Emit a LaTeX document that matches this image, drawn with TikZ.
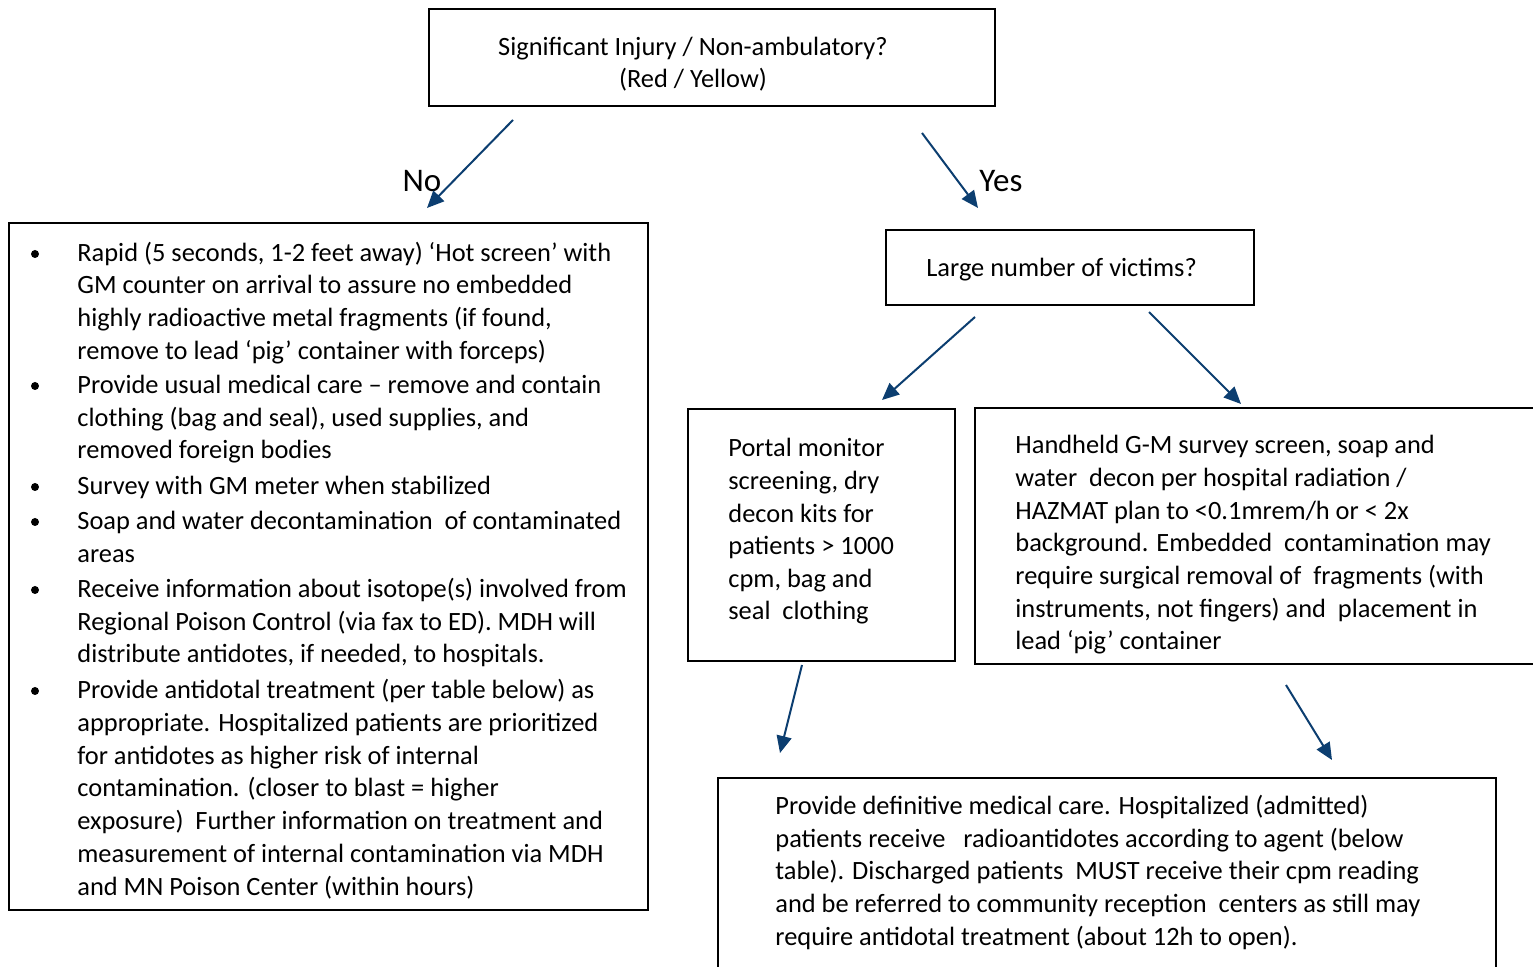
\documentclass[tikz,border=0pt]{standalone}
\usepackage{fontspec}
\setmainfont{Carlito}
\usetikzlibrary{arrows.meta}
\definecolor{arrowblue}{RGB}{12,62,112}
\begin{document}
\begin{tikzpicture}[x=0.5pt,y=-0.5pt,
  box/.style={draw=black,line width=1pt,rectangle,inner sep=0pt,fill=none},
  txt/.style={anchor=base west,inner sep=0pt,font=\fontsize{13.2pt}{16pt}\selectfont},
  ctxt/.style={anchor=base,inner sep=0pt,font=\fontsize{13.2pt}{16pt}\selectfont},
  lbl/.style={anchor=base,inner sep=0pt,font=\fontsize{16.5pt}{18pt}\selectfont},
  bul/.style={circle,fill=black,inner sep=0pt,minimum size=4pt},
  arr/.style={draw=arrowblue,line width=1pt,-{Triangle[length=8.5pt,width=7.5pt]}}]
\clip (0,0) rectangle (1533,967);
\fill[white] (0,0) rectangle (1533,967);
% boxes
\node[box,minimum width=283pt,minimum height=48.5pt] (top) at (712,57.5) {};
\node[box,minimum width=319.5pt,minimum height=343.5pt] (left) at (328.5,566.5) {};
\node[box,minimum width=184pt,minimum height=37.5pt] (large) at (1070,267.5) {};
\node[box,minimum width=133.5pt,minimum height=126pt] (portal) at (821.5,535) {};
\node[box,minimum width=285pt,minimum height=128pt] (hand) at (1260,536) {};
\node[box,minimum width=389pt,minimum height=111pt] (final) at (1107,889) {};
% top text
\node[ctxt] (t1) at (693,56) {Significant Injury / Non-ambulatory?};
\node[ctxt] (t2) at (693,88) {(Red / Yellow)};
% labels
\node[lbl] (no) at (422,192) {No};
\node[lbl] (yes) at (1001,192) {Yes};
\node[txt] (lq) at (926,277) {Large number of victims?};
% left box bullets
\node[bul] (b1) at (35,254) {};
\node[bul] (b2) at (35,386) {};
\node[bul] (b3) at (35,487) {};
\node[bul] (b4) at (35,522) {};
\node[bul] (b5) at (35,590) {};
\node[bul] (b6) at (35,691) {};
% left box text
\node[txt] (l1) at (77,262) {Rapid (5 seconds, 1-2 feet away) ‘Hot screen’ with};
\node[txt] (l2) at (77,294) {GM counter on arrival to assure no embedded};
\node[txt] (l3) at (77,327) {highly radioactive metal fragments (if found,};
\node[txt] (l4) at (77,360) {remove to lead ‘pig’ container with forceps)};
\node[txt] (l5) at (77,394) {Provide usual medical care – remove and contain};
\node[txt] (l6) at (77,427) {clothing (bag and seal), used supplies, and};
\node[txt] (l7) at (77,459) {removed foreign bodies};
\node[txt] (l8) at (77,495) {Survey with GM meter when stabilized};
\node[txt] (l9) at (77,530) {Soap and water decontamination\ \ of contaminated};
\node[txt] (l10) at (77,563) {areas};
\node[txt] (l11) at (77,598) {Receive information about isotope(s) involved from};
\node[txt] (l12) at (77,631) {Regional Poison Control (via fax to ED). MDH will};
\node[txt] (l13) at (77,663) {distribute antidotes, if needed, to hospitals.};
\node[txt] (l14) at (77,699) {Provide antidotal treatment (per table below) as};
\node[txt] (l15) at (77,732) {appropriate. Hospitalized patients are prioritized};
\node[txt] (l16) at (77,765) {for antidotes as higher risk of internal};
\node[txt] (l17) at (77,797) {contamination. (closer to blast = higher};
\node[txt] (l18) at (77,830) {exposure)\ \ Further information on treatment and};
\node[txt] (l19) at (77,863) {measurement of internal contamination via MDH};
\node[txt] (l20) at (77,896) {and MN Poison Center (within hours)};
% portal text
\node[txt] (p1) at (728,457) {Portal monitor};
\node[txt] (p2) at (728,490) {screening, dry};
\node[txt] (p3) at (728,523) {decon kits for};
\node[txt] (p4) at (728,555) {patients > 1000};
\node[txt] (p5) at (728,588) {cpm, bag and};
\node[txt] (p6) at (728,620) {seal\ \ clothing};
% handheld text
\node[txt] (h1) at (1015,454) {Handheld G-M survey screen, soap and};
\node[txt] (h2) at (1015,487) {water\ \ decon per hospital radiation /};
\node[txt] (h3) at (1015,520) {HAZMAT plan to <0.1mrem/h or < 2x};
\node[txt] (h4) at (1015,552) {background. Embedded\ \ contamination may};
\node[txt] (h5) at (1015,585) {require surgical removal of\ \ fragments (with};
\node[txt] (h6) at (1015,618) {instruments, not fingers) and\ \ placement in};
\node[txt] (h7) at (1015,650) {lead ‘pig’ container};
% final text
\node[txt] (f1) at (775,815) {Provide definitive medical care. Hospitalized (admitted)};
\node[txt] (f2) at (775,848) {patients receive\ \ \ radioantidotes according to agent (below};
\node[txt] (f3) at (775,880) {table). Discharged patients\ \ MUST receive their cpm reading};
\node[txt] (f4) at (775,913) {and be referred to community reception\ \ centers as still may};
\node[txt] (f5) at (775,946) {require antidotal treatment (about 12h to open).};
% arrow end points
\coordinate (a1s) at (513,120); \coordinate (a1e) at (427,208);
\coordinate (a2s) at (922,133); \coordinate (a2e) at (978,208);
\coordinate (a3s) at (975,317); \coordinate (a3e) at (882,400);
\coordinate (a4s) at (1149,312); \coordinate (a4e) at (1241,404);
\coordinate (a5s) at (802,665); \coordinate (a5e) at (780,753);
\coordinate (a6s) at (1286,685); \coordinate (a6e) at (1332,760);
\draw[arr] (a1s) -- (a1e);
\draw[arr] (a2s) -- (a2e);
\draw[arr] (a3s) -- (a3e);
\draw[arr] (a4s) -- (a4e);
\draw[arr] (a5s) -- (a5e);
\draw[arr] (a6s) -- (a6e);
\end{tikzpicture}
\end{document}
